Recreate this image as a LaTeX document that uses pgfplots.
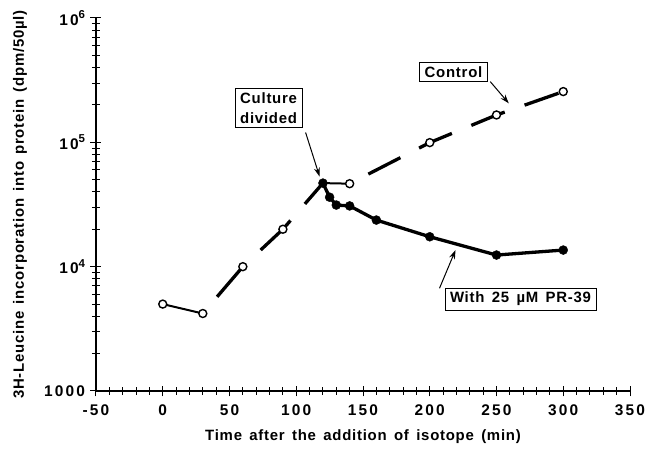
\documentclass[border=0pt]{standalone}
\usepackage{fontspec}
\setmainfont{Liberation Sans}
\newfontfamily\lab{Liberation Sans Bold}[LetterSpace=5, WordSpace=1.5]
\newfontfamily\tickf{Liberation Sans Bold}[LetterSpace=14]
\usepackage{pgfplots}
\pgfplotsset{compat=1.18}
\usetikzlibrary{arrows.meta}

\begin{document}
\begin{tikzpicture}
\path[use as bounding box] (-96bp,-59bp) rectangle (553bp,391bp);
\begin{axis}[
  at={(0,0)}, anchor=south west,
  scale only axis, width=534bp, height=373bp,
  xmin=-50, xmax=350,
  ymode=log, ymin=1000, ymax=1e6,
  axis x line=bottom, axis y line=left,
  axis line style={-, line width=1.1bp},
  xtick={-50,0,...,350}, minor x tick num=4,
  ytick={1000,1e4,1e5,1e6},
  yticklabels={1000,10\raisebox{0.8ex}{\fontsize{11.5}{12}\selectfont 4},10\raisebox{0.8ex}{\fontsize{11.5}{12}\selectfont 5},10\raisebox{0.8ex}{\fontsize{11.5}{12}\selectfont 6}},
  minor ytick={2000,3000,4000,5000,6000,7000,8000,9000,20000,30000,40000,50000,60000,70000,80000,90000,200000,300000,400000,500000,600000,700000,800000,900000},
  tick align=center,
  major tick length=11bp, minor tick length=8bp,
  every tick/.style={black, line width=1bp},
  /pgf/number format/assume math mode=true,
  ticklabel style={font=\tickf\fontsize{15.5}{17}\selectfont},
  xticklabel style={yshift=-5bp},
  yticklabel style={xshift=-2bp},
  every axis y label/.style={at={(axis description cs:0,0.5)}, xshift=-76bp, rotate=90, anchor=center},
  every axis x label/.style={at={(axis description cs:0.5,0)}, yshift=-46bp, anchor=center},
  label style={font=\lab\fontsize{15}{18}\selectfont},
  ylabel={3H-Leucine incorporation into protein (dpm/50µl)},
  xlabel={Time after the addition of isotope (min)},
  clip=false,
]
% control lines
\addplot[black, line width=2bp, mark=none] coordinates {(0,5000) (30,4200)};
\addplot[black, line width=3.3bp, mark=none, dash pattern=on 42bp off 22bp, dash phase=42bp] coordinates {(30,4200) (60,10000) (90,20000) (120,47000)};
\addplot[black, line width=2bp, mark=none] coordinates {(120,47000) (140,46500)};
\addplot[black, line width=3.3bp, mark=none, dash pattern=on 36bp off 21bp, dash phase=36bp] coordinates {(140,46500) (200,99500) (250,166000) (300,256000)};
% treated line
\addplot[black, line width=3.3bp, mark=none] coordinates {(120,47000) (125,36200) (130,31300) (140,30800) (160,23700) (200,17400) (250,12400) (300,13600)};
% control marks
\addplot[only marks, mark=*, mark size=4bp, mark options={fill=white, draw=black, line width=1.4bp}] coordinates {(0,5000) (30,4200) (60,10000) (90,20000) (140,46500) (200,99500) (250,166000) (300,256000)};
% treated marks
\addplot[only marks, mark=*, mark size=4.5bp, mark options={fill=black, draw=black}] coordinates {(120,47000) (125,36200) (130,31300) (140,30800) (160,23700) (200,17400) (250,12400) (300,13600)};
% annotations
\tikzset{lbl/.style={draw, line width=0.8bp, fill=white, inner xsep=5bp, inner ysep=4bp, align=center, font=\lab\fontsize{15}{20}\selectfont},
  arr/.style={-{Stealth[length=9bp, width=6bp]}, line width=1bp}}
\draw[arr] (axis cs:245.3,3.08e5) -- (axis cs:259.2,2.06e5);
\node[lbl] at (axis cs:217.8,3.68e5) {Control};
\draw[arr] (axis cs:107,1.20e5) -- (axis cs:117.5,5.3e4);
\node[lbl] at (axis cs:79.3,1.89e5) {Culture\\divided};
\draw[arr] (axis cs:207.3,6.7e3) -- (axis cs:219.3,1.36e4);
\node[lbl] at (axis cs:268,5.5e3) {With 25 µM PR-39};
\end{axis}
\end{tikzpicture}
\end{document}
